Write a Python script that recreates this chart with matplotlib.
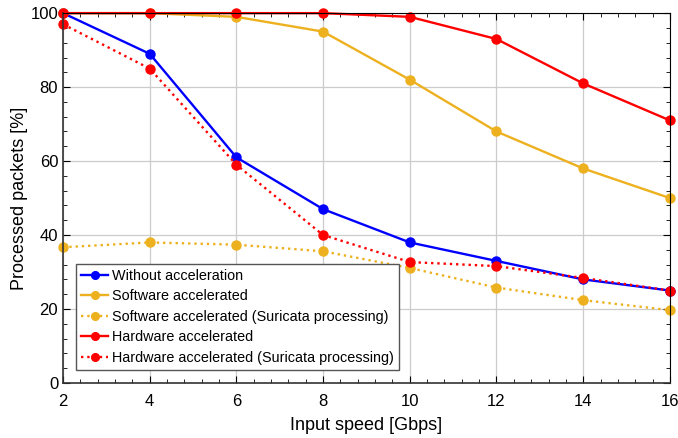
import numpy as np
import matplotlib.pyplot as plt
from matplotlib.ticker import MultipleLocator

# Data
speed = [2, 4, 6, 8, 10, 12, 14, 16]
without_acc = [100, 89, 61, 47, 38, 33, 28, 25]
software_acc = [100, 100, 99, 95, 82, 68, 58, 50]
software_suricata = [36.7, 38, 37.4, 35.6, 31.1, 25.8, 22.4, 19.7]
hardware_acc = [100, 100, 100, 100, 99, 93, 81, 71]
hardware_suricata = [97, 85, 59, 40, 32.7, 31.6, 28.4, 25]

plt.rcParams['font.family'] = ['Liberation Sans', 'DejaVu Sans']

blue = '#0000FF'
orange = '#EDB120'
red = '#FF0000'

fig = plt.figure(figsize=(6.78, 4.38), dpi=100)
ax = fig.add_axes([0.093, 0.1256, 0.895, 0.8444])

style = dict(lw=1.7, ms=6.5, clip_on=False)
ax.plot(speed, without_acc, '-o', color=blue, label='Without acceleration', **style)
ax.plot(speed, software_acc, '-o', color=orange, label='Software accelerated', **style)
ax.plot(speed, software_suricata, ':o', color=orange,
        label='Software accelerated (Suricata processing)', **style)
ax.plot(speed, hardware_acc, '-o', color=red, label='Hardware accelerated', **style)
ax.plot(speed, hardware_suricata, ':o', color=red,
        label='Hardware accelerated (Suricata processing)', **style)

ax.set_xlim(2, 16)
ax.set_ylim(0, 100)
ax.xaxis.set_major_locator(MultipleLocator(2))
ax.xaxis.set_minor_locator(MultipleLocator(0.4))
ax.yaxis.set_major_locator(MultipleLocator(20))
ax.yaxis.set_minor_locator(MultipleLocator(4))
ax.tick_params(which='both', direction='in', top=True, right=True, labelsize=12)
ax.tick_params(which='major', length=5)
ax.tick_params(which='minor', length=3)
ax.tick_params(axis='x', which='major', pad=8)
ax.grid(True, which='major', color='#cccccc', lw=0.9)
ax.set_axisbelow(True)

for side in ['left', 'bottom']:
    ax.spines[side].set_color('#333333')
    ax.spines[side].set_linewidth(1.2)

ax.set_xlabel('Input speed [Gbps]', fontsize=13, labelpad=6)
ax.set_ylabel('Processed packets [%]', fontsize=13, labelpad=2)

leg = ax.legend(loc='lower left', bbox_to_anchor=(0.021, 0.035), fontsize=10.4,
                fancybox=False, framealpha=1, edgecolor='#555555', borderaxespad=0,
                handlelength=1.9, handletextpad=0.25, borderpad=0.35, labelspacing=0.45,
                markerscale=0.85)

fig.savefig('out.png', dpi=100)
